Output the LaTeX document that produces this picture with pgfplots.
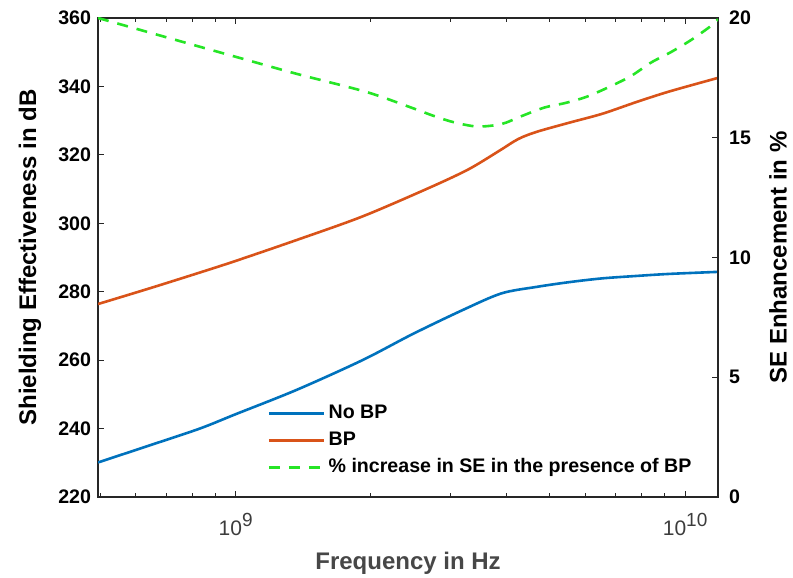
\documentclass[border=0pt]{standalone}
\usepackage{fontspec}
\setmainfont{Liberation Sans}
\usepackage{pgfplots}
\pgfplotsset{compat=1.18}

\definecolor{mblue}{rgb}{0,0.447,0.741}
\definecolor{morange}{rgb}{0.85,0.325,0.098}
\definecolor{mgreen}{rgb}{0.15,0.9,0.15}
\definecolor{axgray}{rgb}{0.15,0.15,0.15}

% frequency (Hz) vs shielding effectiveness (dB)
\pgfplotstableread{
f        se
4.94e8   230.1
6.44e8   235.1
8.32e8   240.0
1.0e9    244.2
1.366e9  251.3
1.915e9  260.0
2.474e9  267.6
3.195e9  274.6
3.9e9    279.5
4.667e9  281.4
5.524e9  282.8
6.54e9   283.9
7.78e9   284.6
9.21e9   285.2
1.184e10 285.8
}\noBP

\pgfplotstableread{
f        se
4.94e8   276.4
6.44e8   281.0
8.32e8   285.6
1.0e9    289.0
1.366e9  295.1
1.915e9  302.0
2.699e9  310.4
3.3e9    315.8
3.861e9  321.2
4.25e9   324.6
4.667e9  326.7
5.524e9  329.4
6.54e9   332.0
7.78e9   335.4
9.21e9   338.5
1.184e10 342.5
}\withBP

% relative enhancement (%)
\pgfplotstableread{
f        pct
4.94e8   20.0
6.44e8   19.39
8.32e8   18.8
1.0e9    18.38
1.366e9  17.67
1.955e9  16.91
2.474e9  16.24
2.769e9  15.9
3.067e9  15.64
3.45e9   15.47
3.9e9    15.57
4.322e9  15.9
4.862e9  16.26
5.439e9  16.46
6.056e9  16.72
6.847e9  17.16
7.586e9  17.58
8.402e9  18.14
9.309e9  18.58
1.031e10 19.08
1.142e10 19.67
1.184e10 19.95
}\enh

\begin{document}
\begin{tikzpicture}
\useasboundingbox (-49pt,-40.5pt) rectangle (347.5pt,248.5pt);
\begin{axis}[
  scale only axis, width=310pt, height=239.5pt,
  at={(0pt,0pt)}, anchor=south west,
  xmode=log, xmin=4.94e8, xmax=1.184e10,
  tick align=inside,
  major tick length=3pt, minor tick length=2pt,
  axis line style={axgray, line width=0.6pt},
  every tick/.style={axgray, line width=0.5pt},
  yticklabel style={font=\bfseries\fontsize{9.8}{11}\selectfont, text=black},
  /pgf/number format/assume math mode=true,
  ymin=220, ymax=360, ytick={220,240,...,360},
  ytick pos=left, xtick pos=both,
  xtick={1e9,1e10},
  xticklabels={10\raisebox{4.5pt}{\fontsize{9.5}{11}\selectfont 9},10\raisebox{4.5pt}{\fontsize{9.5}{11}\selectfont 10}},
  xticklabel style={font=\fontsize{10.5}{12}\selectfont, text=axgray!90!white, anchor=north, yshift=-4.7pt},
  minor xtick={5e8,6e8,7e8,8e8,9e8,2e9,3e9,4e9,5e9,6e9,7e9,8e9,9e9},
  xlabel={Frequency in Hz},
  ylabel={Shielding Effectiveness in dB},
  every axis x label/.style={at={(axis description cs:0.5,-0.1378)}, anchor=center, text=axgray!85!white, font=\bfseries\fontsize{12}{14}\selectfont},
  every axis y label/.style={at={(axis description cs:-0.1097,0.5)}, rotate=90, anchor=center, font=\bfseries\fontsize{12}{14}\selectfont},
  legend style={at={(rel axis cs:0.2726,0.0323)}, anchor=south west, draw=none, fill=none,
    inner sep=0pt, font=\bfseries\fontsize{9.8}{11}\selectfont,
    nodes={inner ysep=2.25pt, inner xsep=1.8pt, text height=7pt, text depth=2pt},
    row sep=0pt},
  legend cell align=left,
  legend image code/.code={\draw[#1] (0pt,0pt) -- (27.5pt,0pt);},
]
\addplot[mblue, line width=1.3pt, smooth, tension=0.5] table[x=f, y=se] {\noBP};
\addlegendentry{No BP}
\addplot[morange, line width=1.3pt, smooth, tension=0.5] table[x=f, y=se] {\withBP};
\addlegendentry{BP}
\addlegendimage{mgreen, line width=1.3pt, dash pattern=on 5.5pt off 4.5pt}
\addlegendentry{\% increase in SE in the presence of BP}
\end{axis}

\begin{axis}[
  scale only axis, width=310pt, height=239.5pt,
  at={(0pt,0pt)}, anchor=south west,
  xmode=log, xmin=4.94e8, xmax=1.184e10,
  tick align=inside,
  major tick length=3pt,
  axis line style={axgray, line width=0.6pt},
  every tick/.style={axgray, line width=0.5pt},
  yticklabel style={font=\bfseries\fontsize{9.8}{11}\selectfont, text=black, xshift=2pt},
  /pgf/number format/assume math mode=true,
  axis y line*=right, axis x line=none,
  ymin=0, ymax=20, ytick={0,5,...,20},
  ylabel={SE Enhancement in \%},
  every axis y label/.style={at={(axis description cs:1.0968,0.5)}, rotate=90, anchor=center, font=\bfseries\fontsize{12}{14}\selectfont},
]
\addplot[mgreen, line width=1.3pt, dash pattern=on 5.5pt off 4.5pt, smooth, tension=0.5] table[x=f, y=pct] {\enh};
\end{axis}
\end{tikzpicture}
\end{document}
